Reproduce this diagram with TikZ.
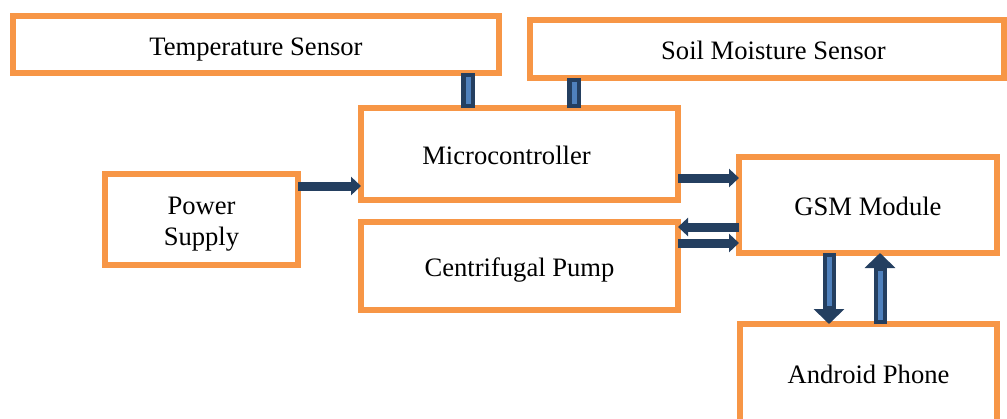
\documentclass[tikz,border=0pt]{standalone}
\usepackage{fontspec}
\setmainfont{Liberation Serif}
\usepackage{tikz}
\usetikzlibrary{arrows.meta, positioning}
\definecolor{boxorange}{HTML}{F79646}
\definecolor{arrownavy}{HTML}{243F60}
\definecolor{arrowblue}{HTML}{4F81BD}

\begin{document}
\begin{tikzpicture}[
    x=0.5pt, y=-0.5pt,
    block/.style={
        draw=boxorange,
        line width=2.75pt,
        fill=white,
        inner sep=0pt,
        outer sep=0pt,
        align=center,
        font=\fontsize{13.3}{15.5}\selectfont
    },
    oneline/.style={text height=10.5pt, text depth=0pt},
    flow/.style={
        draw=arrownavy,
        line width=4.5pt,
        -{Triangle[width=9pt,length=5pt]}
    },
    bus/.style={draw=arrownavy, line width=7pt},
    buscore/.style={draw=arrowblue, line width=2.5pt},
    busflow/.style={
        draw=arrownavy,
        line width=6.5pt,
        -{Triangle[width=15pt,length=7.5pt]}
    }
]
    % fixed frame of the page
    \useasboundingbox (0,0) rectangle (1007,418);

    % blocks
    \node[block, oneline, minimum width=243pt, minimum height=28.5pt] (temp) at (256,44.5) {Temperature Sensor};
    \node[block, oneline, minimum width=237pt, minimum height=29pt] (soil) at (767,49) {\hspace*{6.5pt}Soil Moisture Sensor};
    \node[block, oneline, minimum width=158.5pt, minimum height=46pt] (micro) at (519.5,154) {Microcontroller\hspace*{13pt}};
    \node[block, oneline, minimum width=158.5pt, minimum height=44pt] (pump) at (519.5,266) {Centrifugal Pump};
    \node[block, minimum width=96.5pt, minimum height=45.5pt] (power) at (201.5,219.5) {\rule{0pt}{13pt}Power\\Supply};
    \node[block, oneline, minimum width=129pt, minimum height=48pt] (gsm) at (868,205) {GSM Module};
    \node[block, oneline, minimum width=128.5pt, minimum height=49pt] (phone) at (868.5,373) {Android Phone};

    % sensor buses into the microcontroller
    \draw[bus] ([xshift=-25.75pt]micro.north) -- ([xshift=-25.75pt]micro.north |- temp.south);
    \draw[buscore] ([xshift=-25.75pt,yshift=2pt]micro.north) -- ([xshift=-25.75pt,yshift=-2pt]micro.north |- temp.south);
    \draw[bus] ([xshift=27.25pt]micro.north) -- ([xshift=27.25pt]micro.north |- soil.south);
    \draw[buscore] ([xshift=27.25pt,yshift=2pt]micro.north) -- ([xshift=27.25pt,yshift=-2pt]micro.north |- soil.south);

    % horizontal arrows
    \draw[flow] ([yshift=16.75pt]power.east) -- ([yshift=16.75pt]power.east -| micro.west);
    \draw[flow] ([yshift=-12pt]micro.east) -- ([yshift=-12pt]micro.east -| gsm.west);
    \draw[flow] ([yshift=-11pt]gsm.west) -- ([yshift=-11pt]gsm.west -| pump.east);
    \draw[flow] ([yshift=-19pt]gsm.west -| pump.east) -- ([yshift=-19pt]gsm.west);

    % GSM module and phone
    \draw[busflow] ([xshift=-19.5pt]gsm.south) -- ([xshift=-19.5pt]gsm.south |- phone.north);
    \draw[buscore, shorten <=2pt, shorten >=9pt] ([xshift=-19.5pt]gsm.south) -- ([xshift=-19.5pt]gsm.south |- phone.north);
    \draw[busflow] ([xshift=6pt]gsm.south |- phone.north) -- ([xshift=6pt]gsm.south);
    \draw[buscore, shorten <=2pt, shorten >=9pt] ([xshift=6pt]gsm.south |- phone.north) -- ([xshift=6pt]gsm.south);
\end{tikzpicture}
\end{document}
